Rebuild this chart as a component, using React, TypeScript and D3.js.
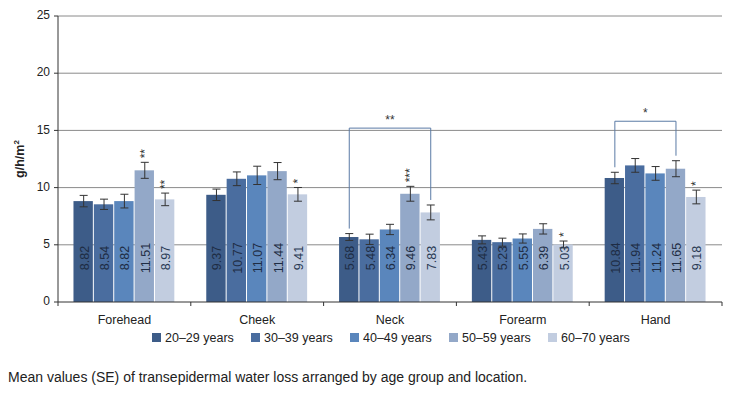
import * as d3 from 'd3';
import React from "react";

const categories = ["Forehead", "Cheek", "Neck", "Forearm", "Hand"];
const groups = ["20–29 years", "30–39 years", "40–49 years", "50–59 years", "60–70 years"];
const colors = ["#3d5c88", "#4a6d9f", "#5a86bc", "#93a8c8", "#c2cde0"];
const values = [
    [8.82, 8.54, 8.82, 11.51, 8.97],
    [9.37, 10.77, 11.07, 11.44, 9.41],
    [5.68, 5.48, 6.34, 9.46, 7.83],
    [5.43, 5.23, 5.55, 6.39, 5.03],
    [10.84, 11.94, 11.24, 11.65, 9.18],
];
const errors = [
    [0.5, 0.45, 0.6, 0.7, 0.55],
    [0.5, 0.6, 0.8, 0.75, 0.6],
    [0.3, 0.45, 0.45, 0.65, 0.65],
    [0.35, 0.35, 0.4, 0.45, 0.3],
    [0.5, 0.6, 0.6, 0.7, 0.6],
];
const stars = [
    ["", "", "", "**", "**"],
    ["", "", "", "", "*"],
    ["", "", "", "***", ""],
    ["", "", "", "", "*"],
    ["", "", "", "", "*"],
];
// brackets: [category, from group, to group, label, level]
const brackets: [number, number, number, string, number][] = [
    [2, 0, 4, "**", 15.2],
    [4, 0, 3, "*", 15.8],
];
const yTicks = [0, 5, 10, 15, 20, 25];

export default function App() {
    const W = 744, H = 406;
    const m = { top: 16, right: 22, bottom: 104, left: 58 };
    const x = d3.scaleBand().domain(categories).range([m.left, W - m.right]).paddingInner(0.233).paddingOuter(0.1165);
    const xs = d3.scaleBand().domain(groups).range([0, x.bandwidth()]);
    const y = d3.scaleLinear().domain([0, 25]).range([H - m.bottom, m.top]);
    const full = (W - m.right - m.left) / categories.length;
    const font = "Liberation Sans, Arial, sans-serif";
    return (
        <svg width={W} height={H} style={{ position: "absolute", left: 0, top: 0 }} fontFamily={font}>
            <rect width={W} height={H} fill="#fff" />
            {yTicks.map(t => (
                <g key={t}>
                    {t > 0 && <line x1={m.left} x2={W - m.right} y1={y(t)} y2={y(t)} stroke="#8a8a8a" />}
                    <line x1={m.left - 4} x2={m.left} y1={y(t)} y2={y(t)} stroke="#333" />
                    <text x={m.left - 8} y={y(t)} textAnchor="end" dominantBaseline="middle" fontSize={12} fill="#222">{t}</text>
                </g>
            ))}
            {categories.map((c, ci) => (
                <g key={c}>
                    {values[ci].map((v, gi) => {
                        const bx = x(c)! + xs(groups[gi])!;
                        const bw = xs.bandwidth();
                        const cx = bx + bw / 2;
                        const e = errors[ci][gi];
                        return (
                            <g key={gi}>
                                <rect x={bx} y={y(v)} width={bw - 1} height={y(0) - y(v)} fill={colors[gi]} />
                                <line x1={cx} x2={cx} y1={y(v + e)} y2={y(v - e)} stroke="#333" />
                                <line x1={cx - 4} x2={cx + 4} y1={y(v + e)} y2={y(v + e)} stroke="#333" />
                                <line x1={cx - 4} x2={cx + 4} y1={y(v - e)} y2={y(v - e)} stroke="#333" />
                                <text transform={`translate(${cx + 5},${y(0) - 44}) rotate(-90)`} textAnchor="middle" fontSize={12.5}
                                    fill={gi === 4 ? "#2a3a55" : "#1e2c44"}>{v.toFixed(2)}</text>
                                {stars[ci][gi] && (
                                    <text transform={`translate(${cx + 4},${y(v + e) - 4}) rotate(-90)`} fontSize={12} fill="#333">{stars[ci][gi]}</text>
                                )}
                            </g>
                        );
                    })}
                    <text x={x(c)! + x.bandwidth() / 2} y={y(0) + 22} textAnchor="middle" fontSize={12.5} fill="#222">{c}</text>
                </g>
            ))}
            {brackets.map(([ci, a, b, lab, lv], i) => {
                const c = categories[ci];
                const xa = x(c)! + xs(groups[a])! + xs.bandwidth() / 2;
                const xb = x(c)! + xs(groups[b])! + xs.bandwidth() / 2;
                const ya = y(values[ci][a] + errors[ci][a]) - 5;
                const yb = y(values[ci][b] + errors[ci][b]) - 5;
                return (
                    <g key={i}>
                        <path d={`M${xa},${ya}V${y(lv)}H${xb}V${yb}`} fill="none" stroke="#5a7aa5" />
                        <text x={(xa + xb) / 2} y={y(lv) - 4} textAnchor="middle" fontSize={12} fill="#333">{lab}</text>
                    </g>
                );
            })}
            <line x1={m.left} x2={W - m.right} y1={y(0)} y2={y(0)} stroke="#333" />
            <line x1={m.left} x2={m.left} y1={y(25)} y2={y(0)} stroke="#333" />
            {d3.range(categories.length + 1).map(i => (
                <line key={i} x1={m.left + i * full} x2={m.left + i * full} y1={y(0)} y2={y(0) + 4} stroke="#333" />
            ))}
            <text transform={`translate(24,${(y(0) + y(25)) / 2}) rotate(-90)`} textAnchor="middle" fontSize={12.5} fontWeight="bold" fill="#222">
                g/h/m<tspan dy={-5} fontSize={8}>2</tspan>
            </text>
            {groups.map((g, gi) => {
                const lx = 152 + gi * 99;
                return (
                    <g key={g}>
                        <rect x={lx} y={333} width={9} height={9} fill={colors[gi]} />
                        <text x={lx + 13} y={342} fontSize={12.5} fill="#222">{g}</text>
                    </g>
                );
            })}
            <text x={8} y={382} fontSize={14} fill="#222">Mean values (SE) of transepidermal water loss arranged by age group and location.</text>
        </svg>
    );
}
